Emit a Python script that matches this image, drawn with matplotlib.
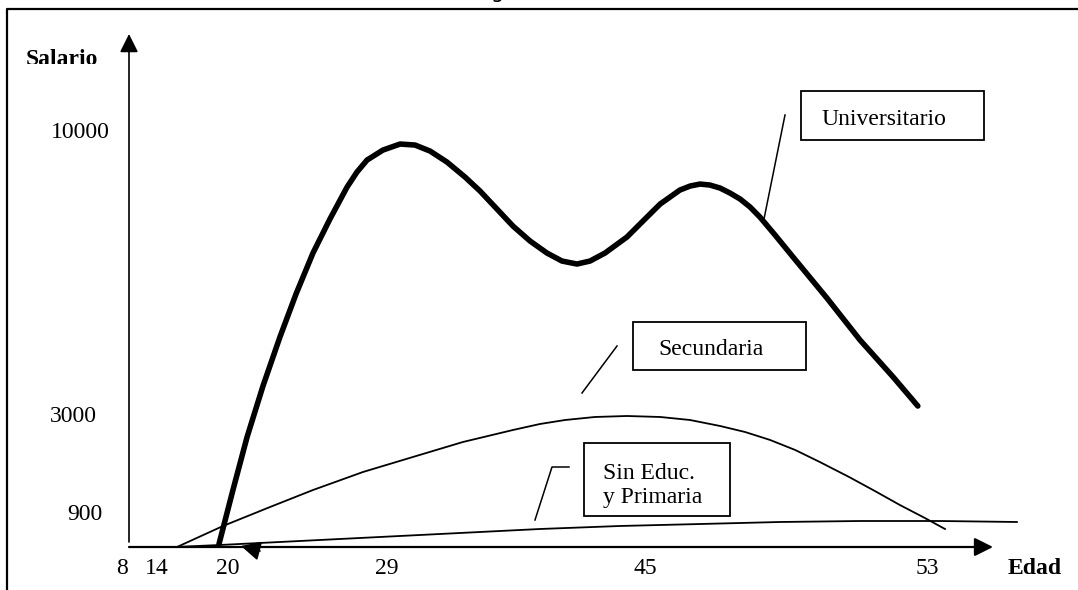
import numpy as np
import matplotlib.pyplot as plt
from matplotlib.patches import Rectangle

plt.rcParams['font.family'] = ['Liberation Serif', 'DejaVu Serif']

# --- datos (edad en años, salario) ---
edades = [8, 14, 20, 29, 45, 53]
salarios = [900, 3000, 10000]

univ_edad = [19.24, 20.28, 21.08, 21.98, 22.94, 23.85, 24.81, 25.77, 26.74, 27.30,
             27.87, 28.77, 29.81, 30.74, 31.67, 32.72, 33.84, 34.77, 35.82, 36.81,
             37.87, 38.92, 39.85, 40.78, 41.59, 42.52, 43.88, 45.00, 45.43, 45.99,
             46.28, 46.56, 46.84, 47.13, 47.41, 47.70, 47.98, 48.26, 48.69, 49.20,
             50.16, 51.10, 52.04, 52.74]
univ_salario = [82, 1414, 2550, 3742, 4954, 6017, 7031, 7872, 8663, 9034,
                9331, 9578, 9727, 9702, 9553, 9281, 8910, 8564, 8119, 7699,
                7328, 7031, 6833, 6759, 6833, 7031, 7427, 7872, 8243, 8589,
                8688, 8737, 8713, 8638, 8515, 8366, 8169, 7921, 7476, 6932,
                5918, 4879, 3964, 3247]

sec_edad = [15.69, 19.58, 22.38, 24.81, 27.64, 30.61, 33.71, 36.81, 38.49, 40.04,
            41.90, 43.88, 45.43, 46.28, 47.13, 47.84, 48.55, 49.26, 49.96, 50.79,
            51.52, 52.23, 52.94, 53.51]
sec_salario = [0, 573, 1050, 1414, 1800, 2122, 2443, 2700, 2829, 2914,
               2979, 3000, 2979, 2914, 2786, 2657, 2486, 2272, 2014, 1693,
               1393, 1093, 791, 491]

prim_edad = [15.52, 19.32, 24.08, 28.6, 33.53, 38.49, 43.45, 46.56, 48.83, 51.10, 53.37, 55.55]
prim_salario = [0, 55, 164, 273, 382, 491, 573, 627, 682, 709, 709, 682]

# el dibujo no esta a escala: cada valor marcado tiene su sitio (en pixeles)
W, H = 1078, 590
x_ref_edad = [-20, 8, 14, 20, 29, 45, 53, 60]
x_ref_px = [-41.3, 122, 157, 228, 387, 645, 927, 1173.8]
y_ref_sal = [-5000, 0, 900, 3000, 10000, 20000]
y_ref_px = [-140, 43, 76, 174, 457, 861]  # altura desde abajo


def fx(v):
    return np.interp(v, x_ref_edad, x_ref_px)


def fx_inv(p):
    return np.interp(p, x_ref_px, x_ref_edad)


def fy(v):
    return np.interp(v, y_ref_sal, y_ref_px)


def fy_inv(p):
    return np.interp(p, y_ref_px, y_ref_sal)


def P(x, y):
    # pixel del dibujo -> fraccion de ejes
    return (x / W, 1 - y / H)


fig = plt.figure(figsize=(W / 100, H / 100), dpi=100)
ax = fig.add_axes([0, 0, 1, 1])
ax.axis('off')
ax.set_xscale('function', functions=(fx, fx_inv))
ax.set_yscale('function', functions=(fy, fy_inv))
ax.set_xlim(fx_inv(0), fx_inv(W))
ax.set_ylim(fy_inv(0), fy_inv(H))

# curvas
ax.plot(univ_edad, univ_salario, color='k', lw=4, solid_capstyle='round',
        solid_joinstyle='round')
ax.plot(sec_edad, sec_salario, color='k', lw=1.3, solid_joinstyle='round')
ax.plot(prim_edad, prim_salario, color='k', lw=1.3, solid_joinstyle='round')

# ejes con flechas
flecha = dict(arrowstyle='-|>,head_length=0.8,head_width=0.4', color='k',
              mutation_scale=14, shrinkA=0, shrinkB=0)
ax.annotate('', xy=P(129, 34), xytext=P(129, 542), xycoords='axes fraction',
            arrowprops=dict(flecha, lw=1.2))
ax.annotate('', xy=P(993, 547), xytext=P(129, 547), xycoords='axes fraction',
            arrowprops=dict(flecha, lw=1.6))
ax.annotate('', xy=P(241, 546), xytext=P(260, 551), xycoords='axes fraction',
            arrowprops=dict(flecha, lw=1.2, mutation_scale=15))

# marco
ax.plot([7 / W, 7 / W, 1], [0, 1 - 9 / H, 1 - 9 / H], transform=ax.transAxes,
        color='k', lw=1.6, clip_on=False)

# etiquetas de los ejes
for e in edades:
    ax.text(e, 1 - 568 / H, str(e), transform=ax.get_xaxis_transform(),
            ha='center', va='center', fontsize=17)
y_label_right = [103, 97, 110]
for s, xr in zip(salarios, y_label_right):
    ax.text(xr / W, s, str(s), transform=ax.get_yaxis_transform(),
            ha='right', va='center', fontsize=17)

ax.text(*P(62, 65), 'Salario', transform=ax.transAxes, ha='center',
        va='baseline', fontsize=17, weight='bold', zorder=3)
ax.add_patch(Rectangle(P(20, 74), 90 / W, 10 / H, transform=ax.transAxes,
                       facecolor='white', edgecolor='none', zorder=4))
ax.text(*P(1035, 568), 'Edad', transform=ax.transAxes, ha='center',
        va='center', fontsize=17, weight='bold')

# cajas con nombres
cajas = [(801, 91, 984, 140), (633, 322, 806, 370), (584, 443, 730, 516)]
for x0, y0, x1, y1 in cajas:
    ax.add_patch(Rectangle(P(x0, y1), (x1 - x0) / W, (y1 - y0) / H,
                           transform=ax.transAxes, fill=False, lw=1.3,
                           edgecolor='k'))

textos = [(821, 125, 'Universitario'), (658, 355, 'Secundaria'),
          (603, 479, 'Sin Educ.'), (603, 503, 'y Primaria')]
for x, y, t in textos:
    ax.text(*P(x, y), t, transform=ax.transAxes, va='baseline', fontsize=17)

# lineas que apuntan a las curvas
guias = [[(785, 115), (764, 219)],
         [(617, 346), (582, 393)],
         [(569, 467), (552, 467), (535, 520)]]
for g in guias:
    xs = [p[0] / W for p in g]
    ys = [1 - p[1] / H for p in g]
    ax.plot(xs, ys, transform=ax.transAxes, color='k', lw=1.1)

# resto del titulo cortado arriba
fig.text(497 / W, 1 + 2 / H, 'g', family='DejaVu Sans', fontsize=15,
         ha='center', va='baseline')

fig.savefig('out.png', dpi=100)
